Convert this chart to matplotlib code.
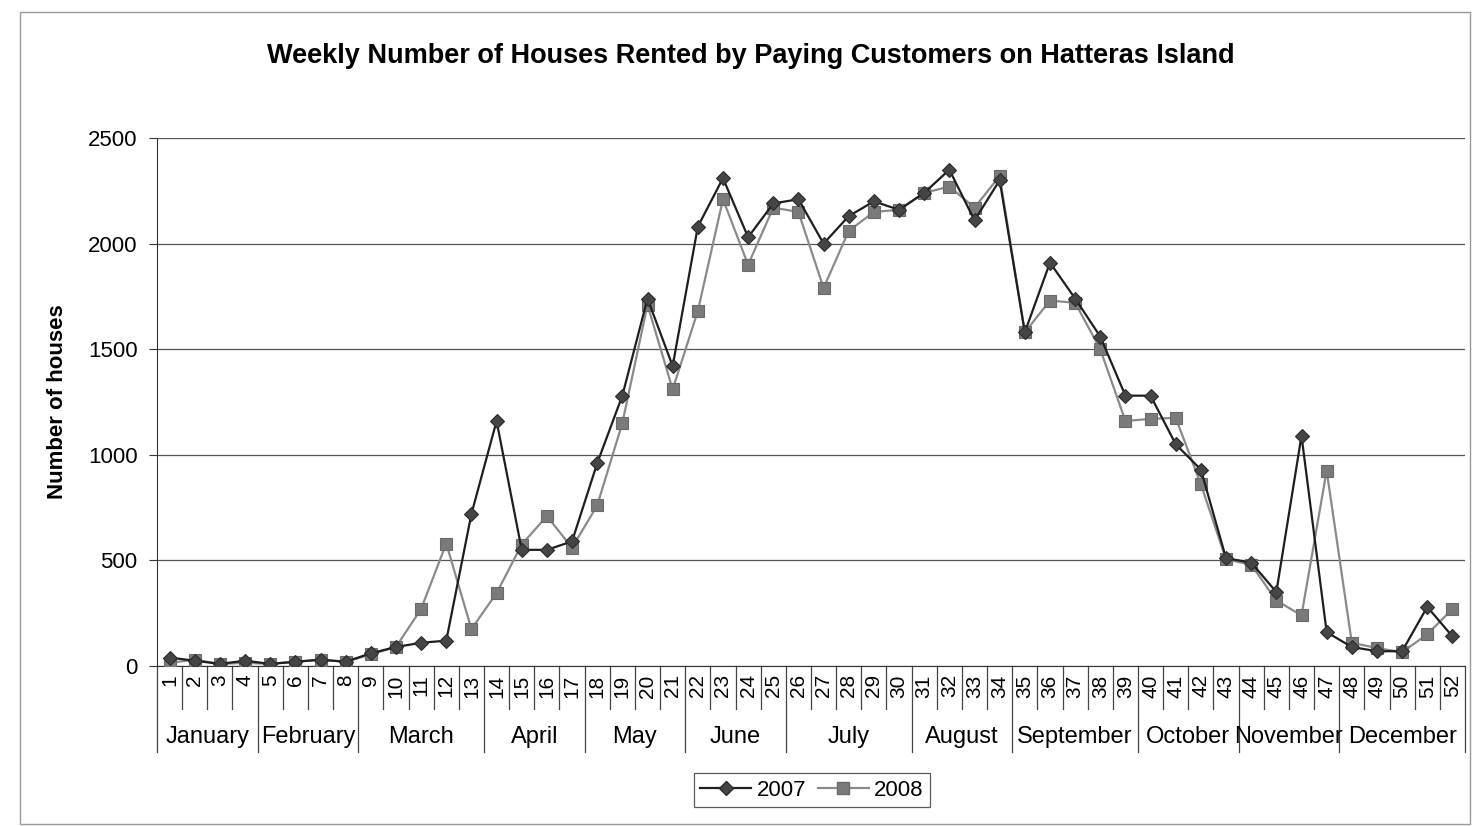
import matplotlib
matplotlib.use("Agg")
import matplotlib.pyplot as plt
from matplotlib.lines import Line2D
from matplotlib.patches import Rectangle

plt.rcParams['font.family'] = ['Liberation Sans', 'DejaVu Sans']

weeks = list(range(1, 53))
v2007 = [40, 25, 10, 25, 10, 20, 30, 20, 60, 90, 110, 120, 720, 1160, 550, 550, 590,
         960, 1280, 1740, 1420, 2080, 2310, 2030, 2190, 2210, 2000, 2130, 2200, 2160,
         2240, 2350, 2110, 2300, 1580, 1910, 1740, 1560, 1280, 1280, 1050, 930, 510,
         490, 350, 1090, 160, 90, 70, 70, 280, 140]
v2008 = [15, 30, 10, 15, 10, 20, 30, 20, 55, 90, 270, 580, 175, 345, 575, 710, 560,
         760, 1150, 1710, 1310, 1680, 2210, 1900, 2170, 2150, 1790, 2060, 2150, 2160,
         2240, 2270, 2170, 2320, 1580, 1730, 1720, 1500, 1160, 1170, 1175, 860, 505,
         480, 310, 240, 925, 110, 85, 65, 150, 270]
months = ["January", "February", "March", "April", "May", "June", "July",
          "August", "September", "October", "November", "December"]
month_weeks = [4, 4, 5, 4, 4, 4, 5, 4, 5, 4, 4, 5]
title = "Weekly Number of Houses Rented by Paying Customers on Hatteras Island"
ylabel = "Number of houses"
series_names = ["2007", "2008"]

W, H = 1472, 826
fig = plt.figure(figsize=(W / 100, H / 100), dpi=100)
x0, x1, ytop, ybot = 157, 1465, 138, 666
ax = fig.add_axes([x0 / W, (H - ybot) / H, (x1 - x0) / W, (ybot - ytop) / H])

c07 = "#2b2b2b"
c08 = "#7a7a7a"
ax.plot(weeks, v2008, color="#8a8a8a", lw=1.6, marker="s", ms=9,
        mfc=c08, mec="#6a6a6a", mew=0.8, zorder=3)
ax.plot(weeks, v2007, color="#1e1e1e", lw=1.6, marker="D", ms=7,
        mfc="#454545", mec=c07, mew=0.8, zorder=4)

ax.set_xlim(0.5, 52.5)
ax.set_ylim(0, 2500)
ax.set_yticks(range(0, 2501, 500))
ax.yaxis.grid(True, color="#555555", lw=0.9)
ax.set_axisbelow(True)
for s in ["top", "right"]:
    ax.spines[s].set_visible(False)
ax.spines["left"].set_color("#333333")
ax.spines["bottom"].set_color("#333333")
ax.tick_params(axis="y", length=6, color="#333333", labelsize=16, pad=8)
ax.set_xticks(weeks)
ax.set_xticklabels([str(w) for w in weeks], rotation=90, fontsize=15)
ax.tick_params(axis="x", length=0, pad=6)
ax.set_ylabel(ylabel, fontsize=16, fontweight="bold", labelpad=14)

# category grid lines (week cells and month cells)
h_px = ybot - ytop
week_bottom = -(709 - ybot) / h_px
month_bottom = -(752 - ybot) / h_px
label_y = -(737 - ybot) / h_px
trans = ax.get_xaxis_transform()
boundaries = [0.5]
acc = 0.5
for n in month_weeks:
    acc += n
    boundaries.append(acc)
for k in range(0, 53):
    xb = k + 0.5
    yb = month_bottom if xb in boundaries else week_bottom
    ax.add_line(Line2D([xb, xb], [0, yb], transform=trans, color="#444444",
                       lw=0.9, clip_on=False))

start = 0.5
for m, n in zip(months, month_weeks):
    ax.text(start + n / 2, label_y, m, transform=trans,
            ha="center", va="center", fontsize=17)
    start += n

fig.text(751 / W, 1 - 56 / H, title, ha="center", va="center",
         fontsize=19.5, fontweight="bold")

leg = fig.legend(
    [Line2D([], [], color="#1e1e1e", lw=1.6, marker="D", ms=7, mfc="#454545", mec=c07),
     Line2D([], [], color="#8a8a8a", lw=1.6, marker="s", ms=9, mfc=c08, mec="#6a6a6a")],
    series_names, loc="center", bbox_to_anchor=(812 / W, 1 - 790 / H), ncol=2,
    frameon=True, fancybox=False, edgecolor="#333333", fontsize=16,
    handlelength=2.3, columnspacing=0.5, handletextpad=0.25, borderpad=0.3)
leg.get_frame().set_linewidth(0.9)

fig.add_artist(Rectangle((20 / W, 1 - 824 / H), 1450 / W, 812 / H,
                         transform=fig.transFigure, fill=False,
                         edgecolor="#9a9a9a", lw=1.0))

fig.savefig("out.png", dpi=100)
